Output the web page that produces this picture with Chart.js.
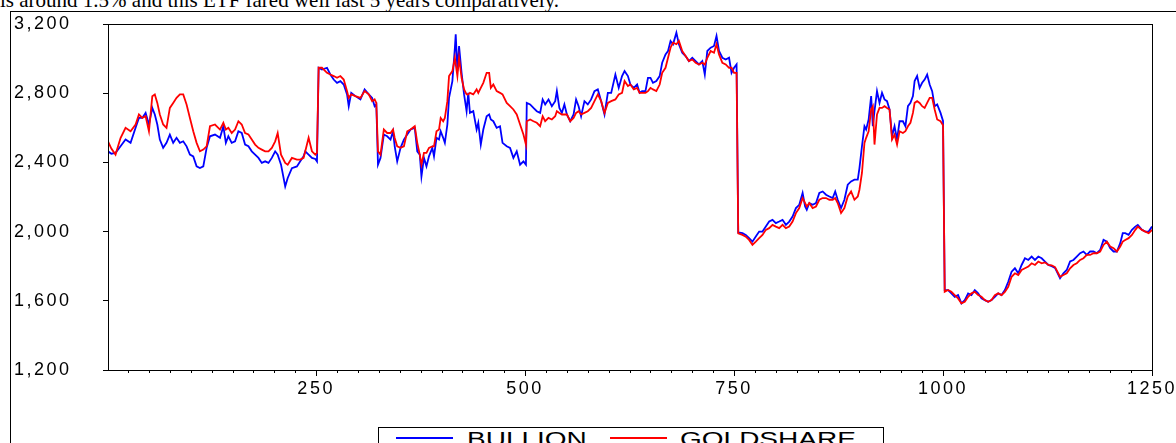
<!DOCTYPE html>
<html lang="en">
<head>
<meta charset="UTF-8">
<title>BULLION vs GOLDSHARE</title>
<script src="https://cdn.jsdelivr.net/npm/chart.js"></script>
<style>
    body {
        margin: 0;
        width: 1176px;
        height: 443px;
        overflow: hidden;
        position: relative;
        background: #fff;
        font-family: "Liberation Sans", Arial, sans-serif;
    }
    .note {
        position: absolute;
        left: 0;
        top: -10px;
        font-family: "Liberation Serif", "Times New Roman", serif;
        font-size: 21px;
        line-height: 21px;
        white-space: nowrap;
    }
    .frame {
        position: absolute;
        left: 10px;
        top: 11px;
        width: 1300px;
        height: 600px;
        border: 1px solid #000;
    }
    .chart-box {
        position: absolute;
        left: 0;
        top: 0;
    }
    .legend {
        position: absolute;
        left: 378px;
        top: 427px;
        width: 504px;
        height: 40px;
        border: 1px solid #000;
        background: #fff;
    }
    .legend .key {
        position: absolute;
        top: 9px;
        width: 57px;
        height: 1.5px;
    }
    .legend .lbl {
        position: absolute;
        top: 1px;
        font-size: 20px;
        line-height: 20px;
        transform: scaleX(1.4);
        transform-origin: left center;
    }
</style>
</head>
<body>
<div class="note">is around 1.5% and this ETF fared well last 5 years comparatively.</div>
<div class="frame"></div>
<div class="chart-box"><canvas id="priceChart" width="1240" height="480"></canvas></div>
<div class="legend">
    <span class="key" style="left:17px;background:#0000ff"></span>
    <span class="lbl" style="left:88px">BULLION</span>
    <span class="key" style="left:231px;background:#ff0000"></span>
    <span class="lbl" style="left:301px">GOLDSHARE</span>
</div>

<script>
    // observation numbers and closing levels
    const obs = [
        1,5,10,16,22,28,34,38,42,46,50,54,57,60,63,67,71,75,79,83,87,91,95,99,103,107,111,115,119,123,129,135,139,142,145,149,153,157,161,165,169,173,177,181,185,189,193,197,201,204,208,213,216,221,227,231,235,237,241,245,249,251,
        253,257,263,267,271,275,279,283,287,289,292,297,303,308,313,317,320,322,324,327,331,335,339,342,344,347,351,355,359,363,368,371,374,376,379,382,385,389,391,394,397,399,402,404,407,409,413,416,417,419,421,424,427,430,432,434,438,442,444,447,450,454,457,459,462,466,470,473,478,482,486,490,494,498,501,
        502,506,510,514,518,521,524,528,532,536,538,541,544,547,550,554,558,561,564,567,571,575,579,583,587,591,595,599,603,608,612,616,619,623,626,630,634,637,640,644,647,650,653,657,661,664,668,671,674,677,681,684,688,692,696,700,704,708,712,715,718,722,726,729,732,736,740,744,747,750,753,
        755,760,764,768,772,776,780,784,788,792,796,800,804,808,812,816,820,824,828,832,835,837,840,844,848,852,856,860,864,868,871,874,878,882,886,890,894,898,900,903,906,908,911,914,916,918,921,924,927,930,933,936,939,942,945,948,952,955,958,961,964,966,969,972,975,978,981,984,987,990,993,997,1000,
        1002,1006,1010,1014,1018,1022,1026,1030,1034,1038,1042,1046,1050,1054,1058,1062,1066,1070,1074,1078,1082,1086,1090,1094,1098,1102,1106,1110,1114,1118,1122,1126,1130,1134,1140,1144,1148,1152,1156,1160,1164,1168,1172,1176,1180,1184,1188,1192,1196,1200,1204,1208,1212,1215,1218,1222,1226,1230,1233,1238,1242,1246,1250
    ];
    const bullion = [
        2464,2450,2455,2493,2532,2513,2600,2657,2657,2686,2619,2715,2677,2619,2532,2484,2513,2561,2513,2542,2513,2522,2493,2445,2435,2377,2367,2377,2484,2551,2561,2542,2609,2513,2551,2513,2522,2580,2570,2503,2493,2464,2445,2426,2397,2406,2397,2426,2464,2445,2387,2261,2310,2367,2377,2406,2435,2464,2445,2426,2420,2406,
        2947,2937,2947,2908,2879,2860,2870,2850,2793,2725,2802,2783,2764,2822,2793,2773,2725,2735,2387,2426,2561,2551,2532,2580,2493,2406,2484,2532,2561,2590,2600,2464,2445,2319,2426,2377,2435,2484,2435,2542,2532,2580,2542,2513,2619,2773,2870,3063,3140,2928,3073,2918,2793,2696,2802,2686,2696,2590,2629,2503,2590,2667,2677,2648,2638,2600,2609,2513,2493,2484,2426,2464,2387,2406,2387,
        2744,2735,2715,2696,2686,2764,2735,2764,2725,2754,2812,2715,2686,2735,2677,2638,2677,2764,2725,2667,2754,2735,2764,2812,2822,2754,2677,2802,2802,2908,2831,2899,2928,2899,2850,2831,2850,2802,2812,2812,2889,2889,2860,2870,2899,2976,3024,3044,3102,3083,3150,3083,3034,3015,2986,3005,2986,2966,2986,2908,3044,3063,3073,3131,3044,3005,2995,3005,2918,2947,2966,
        1995,1991,1981,1962,1942,1971,2000,2000,2029,2058,2068,2049,2058,2068,2039,2058,2087,2136,2155,2223,2145,2126,2165,2155,2165,2223,2232,2213,2203,2194,2232,2184,2136,2184,2271,2290,2300,2300,2367,2493,2609,2590,2648,2783,2609,2696,2812,2744,2802,2764,2754,2706,2551,2609,2532,2638,2638,2609,2725,2744,2783,2870,2899,2831,2860,2879,2908,2850,2812,2725,2735,2686,2640,
        1662,1662,1643,1623,1633,1585,1604,1643,1633,1662,1643,1614,1604,1594,1604,1623,1643,1633,1662,1710,1768,1788,1759,1807,1846,1836,1856,1836,1856,1846,1827,1807,1800,1790,1730,1759,1778,1827,1836,1856,1875,1885,1865,1885,1885,1875,1894,1952,1942,1904,1885,1885,1933,1991,1991,1981,2010,2029,2039,2010,2000,2000,2029
    ];
    const goldshare = [
        2522,2480,2445,2541,2600,2580,2619,2677,2657,2667,2580,2783,2793,2744,2677,2619,2600,2715,2744,2773,2793,2793,2735,2657,2580,2513,2464,2474,2493,2609,2619,2590,2629,2590,2600,2570,2590,2638,2619,2570,2561,2532,2503,2484,2474,2464,2464,2484,2522,2570,2445,2397,2387,2426,2416,2416,2426,2464,2542,2464,2445,2455,
        2947,2947,2918,2908,2899,2889,2899,2879,2812,2773,2793,2783,2773,2812,2793,2754,2764,2744,2464,2445,2590,2570,2570,2590,2541,2493,2484,2493,2580,2590,2609,2513,2445,2387,2455,2455,2484,2493,2493,2580,2590,2657,2638,2657,2754,2899,2928,3005,2967,2899,3005,2889,2822,2793,2793,2802,2793,2822,2802,2831,2860,2918,2918,2831,2850,2812,2802,2793,2744,2725,2706,2677,2619,2561,2503,
        2638,2648,2638,2629,2609,2667,2638,2657,2648,2667,2696,2686,2677,2677,2677,2638,2657,2686,2696,2677,2686,2696,2715,2754,2793,2754,2686,2744,2754,2764,2793,2802,2870,2841,2850,2822,2831,2802,2802,2802,2812,2831,2822,2812,2850,2918,2947,3005,3063,3092,3083,3102,3044,3015,2986,2995,2976,2966,2976,2966,3005,3044,3034,3083,3024,2976,2966,2947,2947,2918,2918,
        1990,1981,1971,1952,1923,1942,1962,1981,2010,2020,2039,2029,2020,2039,2020,2029,2058,2107,2136,2194,2165,2145,2165,2136,2145,2184,2194,2194,2184,2184,2194,2165,2107,2136,2203,2232,2184,2203,2242,2339,2513,2542,2580,2706,2725,2503,2677,2715,2715,2725,2715,2706,2532,2561,2503,2580,2570,2580,2609,2629,2686,2744,2754,2744,2725,2715,2744,2773,2773,2706,2648,2638,2615,
        1652,1662,1652,1633,1614,1585,1594,1623,1643,1652,1633,1623,1604,1594,1604,1633,1643,1633,1652,1681,1739,1759,1749,1778,1788,1798,1817,1807,1827,1817,1822,1807,1805,1795,1739,1749,1759,1788,1807,1817,1836,1846,1865,1865,1875,1875,1885,1923,1942,1914,1904,1885,1914,1942,1952,1962,1981,2010,2029,2010,2000,1991,2010
    ];
    const xTicks = [250, 500, 750, 1000, 1250];
    const yTicks = [1200, 1600, 2000, 2400, 2800, 3200];

    const toPoints = vals => obs.map((x, k) => ({ x: x, y: vals[k] }));
    const tickFont = { family: '"Liberation Sans", Arial, sans-serif', size: 18 };

    // box round the plot, minor ticks every 25 obs, wider letter spacing for axis text
    const framePlugin = {
        id: 'frame',
        beforeDraw(chart) {
            chart.ctx.letterSpacing = '2.5px';
        },
        afterDraw(chart) {
            const { ctx, chartArea: a, scales } = chart;
            ctx.save();
            ctx.letterSpacing = '0px';
            ctx.strokeStyle = '#000';
            ctx.lineWidth = 1;
            ctx.strokeRect(Math.round(a.left) + 0.5, Math.round(a.top) + 0.5,
                Math.round(a.right - a.left), Math.round(a.bottom - a.top));
            ctx.beginPath();
            for (let v = 25; v < 1250; v += 25) {
                if (v % 250 === 0) continue;
                const px = Math.round(scales.x.getPixelForValue(v)) + 0.5;
                ctx.moveTo(px, a.bottom);
                ctx.lineTo(px, a.bottom + 3);
            }
            ctx.stroke();
            ctx.restore();
        }
    };

    const ctx = document.getElementById('priceChart').getContext('2d');
    new Chart(ctx, {
        type: 'line',
        data: {
            datasets: [
                {
                    label: 'BULLION',
                    data: toPoints(bullion),
                    borderColor: '#0000ff',
                    borderWidth: 1.8,
                    pointRadius: 0,
                    tension: 0,
                    order: 1
                },
                {
                    label: 'GOLDSHARE',
                    data: toPoints(goldshare),
                    borderColor: '#ff0000',
                    borderWidth: 1.8,
                    pointRadius: 0,
                    tension: 0,
                    order: 0
                }
            ]
        },
        options: {
            responsive: false,
            animation: false,
            devicePixelRatio: 1,
            layout: { padding: { left: 14, top: 24, right: 88, bottom: 0 } },
            plugins: {
                legend: { display: false },
                tooltip: { enabled: false }
            },
            scales: {
                x: {
                    type: 'linear',
                    min: 1,
                    max: 1250,
                    afterBuildTicks: s => { s.ticks = xTicks.map(v => ({ value: v })); },
                    afterFit: s => { s.height = 110; },
                    grid: { drawOnChartArea: false, tickLength: 6, color: '#000' },
                    border: { color: '#000' },
                    ticks: {
                        color: '#000', font: tickFont, padding: 2, maxRotation: 0, autoSkip: false,
                        callback: v => String(v)
                    }
                },
                y: {
                    min: 1200,
                    max: 3200,
                    afterBuildTicks: s => { s.ticks = yTicks.map(v => ({ value: v })); },
                    afterFit: s => { s.width = 94; },
                    grid: { drawOnChartArea: false, tickLength: 5, color: '#000' },
                    border: { color: '#000' },
                    ticks: { color: '#000', font: tickFont, crossAlign: 'far' }
                }
            }
        },
        plugins: [framePlugin]
    });
</script>
</body>
</html>
